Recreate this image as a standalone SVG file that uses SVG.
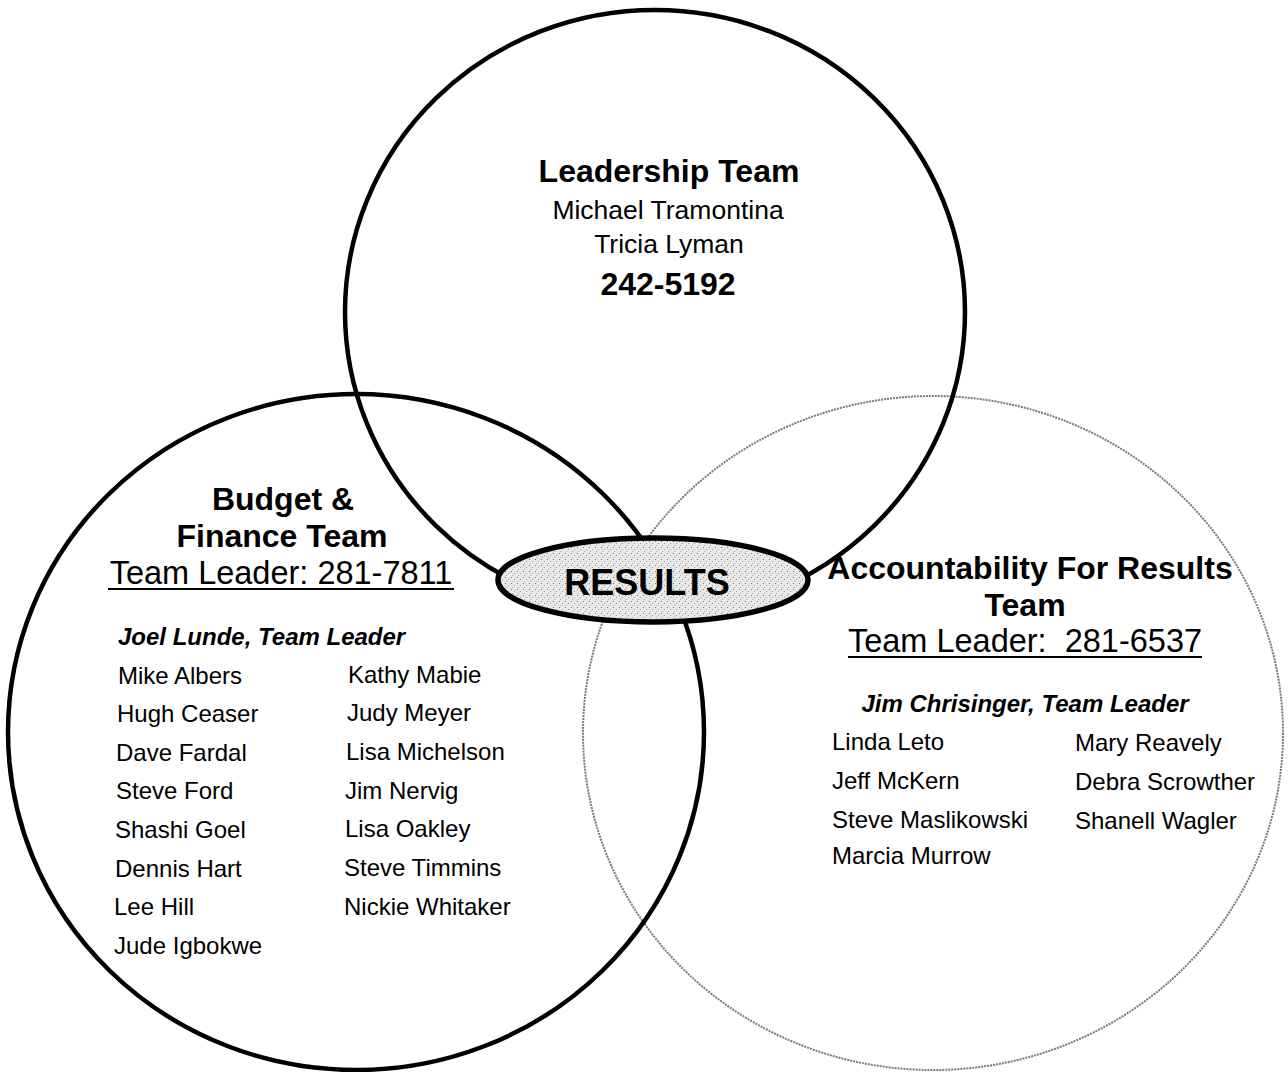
<svg xmlns="http://www.w3.org/2000/svg" width="1288" height="1072" viewBox="0 0 1288 1072">
<style>
text{font-family:"Liberation Sans",Arial,sans-serif;fill:#000}
.h{font-weight:bold;font-size:32px}
.r{font-size:26.5px}
.u{font-size:32.5px}
.l{font-weight:bold;font-style:italic;font-size:24px}
.n{font-size:24px}
.c{text-anchor:middle}
.ring{fill:none;stroke:#000;stroke-width:4.5}
.faint{fill:none;stroke:#7a7a7a;stroke-width:2;stroke-dasharray:2 1}
.ul{stroke:#000;stroke-width:2}
</style>
<defs>
<pattern id="speck" width="6" height="6" patternUnits="userSpaceOnUse">
<rect width="6" height="6" fill="#e8e8e8"/>
<rect x="1" y="1" width="1" height="1" fill="#777"/>
<rect x="4" y="3" width="1" height="1" fill="#999"/>
<rect x="2" y="5" width="1" height="1" fill="#aaa"/>
</pattern>
</defs>
<rect width="1288" height="1072" fill="#fff"/>
<g id="accountability-circle">
<ellipse class="faint" cx="933" cy="733" rx="350" ry="337"/>
</g>
<g id="leadership-circle">
<ellipse class="ring" cx="655" cy="312" rx="310" ry="302"/>
</g>
<g id="budget-circle">
<ellipse class="ring" cx="356" cy="732" rx="348" ry="338"/>
</g>
<g id="results">
<ellipse cx="653" cy="580" rx="155" ry="42" fill="url(#speck)" stroke="#000" stroke-width="5.5"/>
<text x="647" y="595" class="c" style="font-weight:bold;font-size:36px">RESULTS</text>
</g>
<g id="leadership-text">
<text x="669" y="182" class="h c">Leadership Team</text>
<text x="668" y="219" class="r c">Michael Tramontina</text>
<text x="669" y="253" class="r c">Tricia Lyman</text>
<text x="668" y="295" class="h c">242-5192</text>
</g>
<g id="budget-text">
<text x="283" y="510" class="h c">Budget &amp;</text>
<text x="282" y="547" class="h c">Finance Team</text>
<text x="281" y="584" class="u c">Team Leader: 281-7811</text>
<line class="ul" x1="108" y1="589" x2="454" y2="589"/>
<text x="118" y="645" class="l">Joel Lunde, Team Leader</text>
<text x="118" y="684" class="n">Mike Albers</text>
<text x="117" y="722" class="n">Hugh Ceaser</text>
<text x="116" y="761" class="n">Dave Fardal</text>
<text x="116" y="799" class="n">Steve Ford</text>
<text x="115" y="838" class="n">Shashi Goel</text>
<text x="115" y="877" class="n">Dennis Hart</text>
<text x="114" y="915" class="n">Lee Hill</text>
<text x="114" y="954" class="n">Jude Igbokwe</text>
<text x="348" y="683" class="n">Kathy Mabie</text>
<text x="347" y="721" class="n">Judy Meyer</text>
<text x="346" y="760" class="n">Lisa Michelson</text>
<text x="345" y="799" class="n">Jim Nervig</text>
<text x="345" y="837" class="n">Lisa Oakley</text>
<text x="344" y="876" class="n">Steve Timmins</text>
<text x="344" y="915" class="n">Nickie Whitaker</text>
</g>
<g id="accountability-text">
<text x="1030" y="579" class="h c">Accountability For Results</text>
<text x="1025" y="616" class="h c">Team</text>
<text x="1025" y="652" class="u c" style="white-space:pre">Team Leader:  281-6537</text>
<line class="ul" x1="848" y1="657" x2="1202" y2="657"/>
<text x="1025" y="712" class="l c">Jim Chrisinger, Team Leader</text>
<text x="832" y="750" class="n">Linda Leto</text>
<text x="832" y="789" class="n">Jeff McKern</text>
<text x="832" y="828" class="n">Steve Maslikowski</text>
<text x="832" y="864" class="n">Marcia Murrow</text>
<text x="1075" y="751" class="n">Mary Reavely</text>
<text x="1075" y="790" class="n">Debra Scrowther</text>
<text x="1075" y="829" class="n">Shanell Wagler</text>
</g>
</svg>
